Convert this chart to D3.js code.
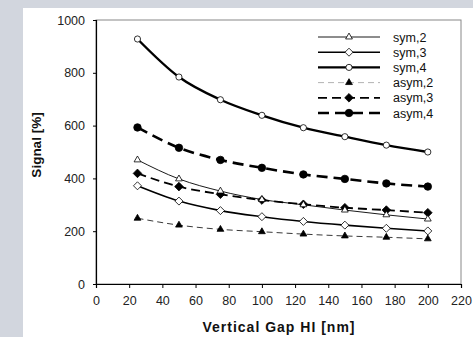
<!DOCTYPE html>
<html>
<head>
<meta charset="utf-8">
<script src="https://cdn.jsdelivr.net/npm/d3@7"></script>
<style>
  body { margin: 0; background: #d2d6de; }
  svg { display: block; font-family: "Liberation Sans", Arial, sans-serif; }
</style>
</head>
<body>
<div id="chart"></div>
<script>
// data
const gaps = [25, 50, 75, 100, 125, 150, 175, 200];
const sym2 = [470, 398, 352, 320, 300, 280, 262, 246];
const sym3 = [372, 314, 278, 255, 237, 223, 211, 201];
const sym4 = [928, 784, 698, 639, 592, 558, 526, 500];
const asym2 = [249, 223, 207, 198, 189, 182, 177, 171];
const asym3 = [419, 369, 340, 318, 302, 289, 280, 270];
const asym4 = [593, 516, 470, 440, 415, 398, 381, 369];
const xTicks = [0, 20, 40, 60, 80, 100, 120, 140, 160, 180, 200, 220];
const yTicks = [0, 200, 400, 600, 800, 1000];

const series = [
  {name: 'sym,2', values: sym2, width: 0.9, dash: null, color: '#000', legendColor: '#000', marker: 'triangle', fill: '#fff', size: 20},
  {name: 'sym,3', values: sym3, width: 1.6, dash: null, color: '#000', legendColor: '#000', marker: 'diamond', fill: '#fff', size: 4},
  {name: 'sym,4', values: sym4, width: 2.4, dash: null, color: '#000', legendColor: '#000', marker: 'circle', fill: '#fff', size: 30},
  {name: 'asym,2', values: asym2, width: 0.9, dash: '6,4', color: '#222', legendColor: '#aaa', marker: 'triangle', fill: '#000', size: 20},
  {name: 'asym,3', values: asym3, width: 1.8, dash: '9,5', color: '#000', legendColor: '#000', marker: 'diamond', fill: '#000', size: 4.3},
  {name: 'asym,4', values: asym4, width: 2.6, dash: '11,6', color: '#000', legendColor: '#000', marker: 'circle', fill: '#000', size: 44}
];

const width = 473;
const height = 337;
const margin = {top: 20, right: 12, bottom: 53, left: 96};
const plotWidth = width - margin.left - margin.right;
const plotHeight = height - margin.top - margin.bottom;

const svg = d3.select('#chart').append('svg')
  .attr('width', width)
  .attr('height', height);

// white panel
svg.append('rect')
  .attr('x', 23).attr('y', 8)
  .attr('width', width - 23).attr('height', height - 8)
  .attr('fill', '#fff');

const plot = svg.append('g')
  .attr('transform', `translate(${margin.left},${margin.top})`);

const x = d3.scaleLinear().domain([0, 220]).range([0, plotWidth]);
const y = d3.scaleLinear().domain([0, 1000]).range([plotHeight, 0]);

// frame (top/right in gray)
plot.append('rect')
  .attr('x', 0).attr('y', 0)
  .attr('width', plotWidth).attr('height', plotHeight)
  .attr('fill', 'none')
  .attr('stroke', '#888')
  .attr('stroke-width', 1);

const xAxis = plot.append('g')
  .attr('transform', `translate(0,${plotHeight})`)
  .call(d3.axisBottom(x).tickValues(xTicks).tickFormat(d3.format('d')).tickSize(4).tickPadding(8));
const yAxis = plot.append('g')
  .call(d3.axisLeft(y).tickValues(yTicks).tickFormat(d3.format('d')).tickSize(3).tickPadding(8));

[xAxis, yAxis].forEach(a => {
  a.select('.domain').attr('stroke', '#000').attr('stroke-width', 1.2);
  a.selectAll('.tick line').attr('stroke', '#000');
  a.selectAll('.tick text')
    .attr('fill', '#222')
    .style('font-size', '12.5px')
    .style('font-family', '"Liberation Sans", Arial, sans-serif');
});

// axis titles
svg.append('text')
  .attr('x', 279)
  .attr('y', 332)
  .attr('text-anchor', 'middle')
  .style('font-size', '14px')
  .style('font-weight', 'bold')
  .style('letter-spacing', '1px')
  .attr('fill', '#111')
  .text('Vertical Gap HI [nm]');

svg.append('text')
  .attr('transform', `translate(41,145) rotate(-90)`)
  .attr('text-anchor', 'middle')
  .style('font-size', '13.5px')
  .style('font-weight', 'bold')
  .attr('fill', '#111')
  .text('Signal [%]');

const symbolType = {triangle: d3.symbolTriangle, circle: d3.symbolCircle};

// diamond as a rotated square, size = half diagonal
function markerPath(s) {
  if (s.marker === 'diamond') {
    const r = s.size;
    return `M0,${-r}L${r},0L0,${r}L${-r},0Z`;
  }
  return d3.symbol().type(symbolType[s.marker]).size(s.size)();
}

const line = d3.line()
  .x(d => x(d[0]))
  .y(d => y(d[1]))
  .curve(d3.curveMonotoneX);

// draw thinner series on top of thicker ones like the original
const drawOrder = [2, 5, 4, 1, 0, 3];
drawOrder.forEach(i => {
  const s = series[i];
  const pts = gaps.map((g, j) => [g, s.values[j]]);
  plot.append('path')
    .datum(pts)
    .attr('d', line)
    .attr('fill', 'none')
    .attr('stroke', s.color)
    .attr('stroke-width', s.width)
    .attr('stroke-dasharray', s.dash);
  plot.selectAll(null)
    .data(pts)
    .enter()
    .append('path')
    .attr('transform', d => `translate(${x(d[0])},${y(d[1])})`)
    .attr('d', markerPath(s))
    .attr('fill', s.fill)
    .attr('stroke', '#000')
    .attr('stroke-width', 0.8);
});

// legend
const legend = svg.append('g');
series.forEach((s, i) => {
  const ly = 37 + i * 15.2;
  legend.append('line')
    .attr('x1', 318).attr('x2', 380)
    .attr('y1', ly).attr('y2', ly)
    .attr('stroke', s.legendColor)
    .attr('stroke-width', s.width)
    .attr('stroke-dasharray', s.dash);
  legend.append('path')
    .attr('transform', `translate(349,${ly})`)
    .attr('d', markerPath(s))
    .attr('fill', s.fill)
    .attr('stroke', '#000')
    .attr('stroke-width', 0.8);
  legend.append('text')
    .attr('x', 393)
    .attr('y', ly + 4.5)
    .style('font-size', '12.5px')
    .attr('fill', '#111')
    .text(s.name);
});
</script>
</body>
</html>
